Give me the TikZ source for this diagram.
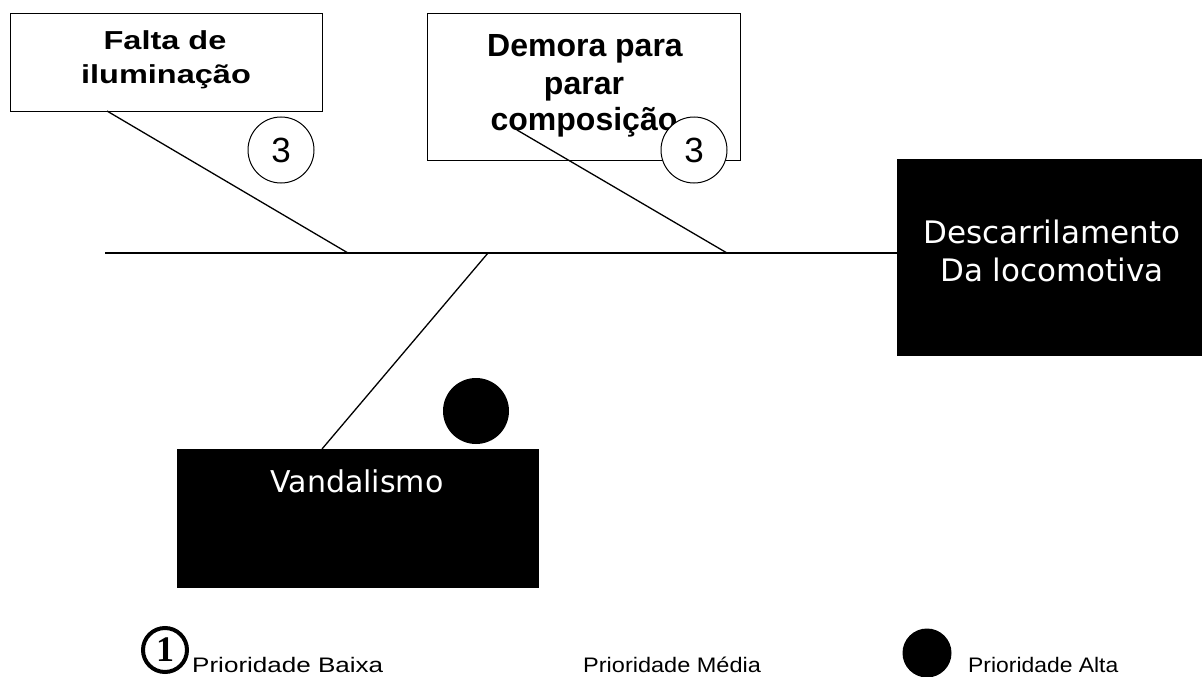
\documentclass[tikz,border=0pt]{standalone}
\usepackage{fontspec}
\setmainfont{Liberation Sans}
\newfontfamily\vfont{DejaVu Sans}
\newfontfamily\sfont{Liberation Serif}
\begin{document}
\begin{tikzpicture}[x=1pt,y=-1pt,
  whitebox/.style={draw=black,line width=1.4pt,fill=white,inner sep=0pt,anchor=north west},
  blackbox/.style={draw=black,fill=black,inner sep=0pt,anchor=north west},
  onetext/.style={font=\fontsize{26}{26}\selectfont\bfseries,anchor=base,inner sep=0pt},
  twotext/.style={font=\fontsize{32}{32}\selectfont\bfseries,anchor=base,inner sep=0pt},
  headtext/.style={font=\vfont\fontsize{31}{38}\selectfont,text=white,align=center,inner sep=0pt},
  numcirc/.style={circle,draw=black,line width=1pt,fill=white,minimum size=66pt,inner sep=0pt,font=\fontsize{35}{35}\selectfont},
  dotcirc/.style={circle,fill=black,inner sep=0pt},
  bone/.style={line width=1.3pt},
  legtext/.style={font=\fontsize{21}{21}\selectfont,anchor=base west,inner sep=0pt}]
\useasboundingbox (0,0) rectangle (1202,677);
% boxes
\node[whitebox,minimum width=312pt,minimum height=98pt] (b1) at (10,13) {};
\node[whitebox,minimum width=313pt,minimum height=147pt] (b2) at (427,13) {};
\node[blackbox,minimum width=305pt,minimum height=196pt] (head) at (897,159) {};
\node[blackbox,minimum width=361pt,minimum height=138pt] (vand) at (177,449) {};
% texts
\node[onetext] (t1a) at (165,50) {\scalebox{1.25}[1]{Falta de}};
\node[onetext] (t1b) at (166,83) {\scalebox{1.25}[1]{iluminação}};
\node[twotext] (t2a) at (585,57) {Demora para};
\node[twotext] (t2b) at (584,94) {parar};
\node[twotext] (t2c) at (584,130) {composição};
\node[headtext] (th) at (1052,251) {Descarrilamento\\Da locomotiva};
\node[font=\vfont\fontsize{30}{30}\selectfont,text=white,inner sep=0pt] (tv) at (357,481) {Vandalismo};
% coordinates
\coordinate (s0) at (105,253);
\coordinate (s1) at (107,111);
\coordinate (j1) at (348,253);
\coordinate (s2) at (517,130);
\coordinate (j2) at (727,253);
\coordinate (j3) at (488,253);
\coordinate (s3) at (322,449);
% bones
\draw[line width=1.8pt] (s0) -- (head.west |- s0);
\draw[bone] (s1) -- (j1);
\draw[bone] (s2) -- (j2);
\draw[bone] (j3) -- (s3);
% priority circles
\node[numcirc] (c1) at (281,150) {3};
\node[numcirc] (c2) at (694,150) {3};
\node[dotcirc,minimum size=66pt] (c3) at (476,411) {};
% legend
\node[circle,draw=black,line width=4pt,minimum size=44pt,inner sep=0pt,font=\sfont\bfseries\fontsize{36}{36}\selectfont] (l1) at (165,650) {1};
\node[legtext] (lt1) at (192,672) {\scalebox{1.24}[1]{Prioridade Baixa}};
\node[legtext] (lt2) at (583,672) {\scalebox{1.12}[1]{Prioridade Média}};
\node[dotcirc,minimum size=49pt] (l3) at (927,653) {};
\node[legtext] (lt3) at (968,672) {\scalebox{1.09}[1]{Prioridade Alta}};
\end{tikzpicture}
\end{document}
